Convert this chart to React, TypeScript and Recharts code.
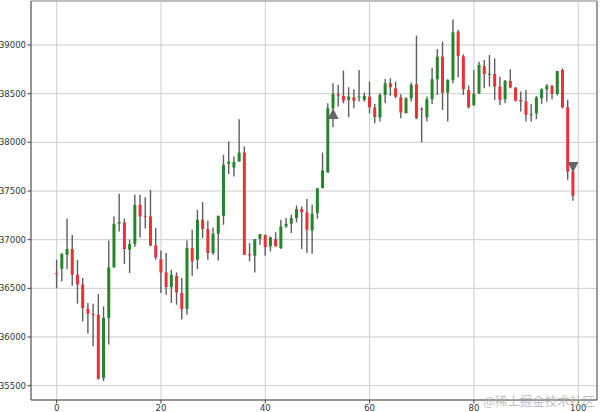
import React from "react";
import {
  Bar,
  CartesianGrid,
  ComposedChart,
  ReferenceLine,
  Scatter,
  XAxis,
  YAxis,
} from "recharts";

// OHLC per session, index = position on the x axis
const opens = [
  36655, 36700, 36845, 36904, 36640, 36538, 36288, 36235, 36230, 35580,
  36196, 36715, 37165, 37177, 36897, 36955, 37358, 37245, 37239, 36941,
  36800, 36664, 36514, 36630, 36452, 36288, 36914, 36794, 37205, 37109,
  36863, 37061, 37246, 37779, 37741, 37803, 37895, 36850, 36835, 37010,
  37050, 36931, 37006, 36914, 37136, 37163, 37222, 37314, 37280, 37095,
  37273, 37529, 37690, 38350, 38494, 38477, 38436, 38463, 38465, 38436,
  38470, 38357, 38258, 38487, 38607, 38555, 38463, 38299, 38453, 38596,
  38345, 38258, 38443, 38648, 38880, 38511, 38641, 39137, 38880, 38538,
  38384, 38504, 38785, 38700, 38702, 38573, 38443, 38631, 38562, 38436,
  38419, 38285, 38299, 38453, 38545, 38579, 38497, 38743, 38360, 37700,
];
const closes = [
  36645, 36855, 36905, 36640, 36538, 36298, 36240, 36225, 35570, 36196,
  36715, 37163, 37180, 36904, 36955, 37358, 37239, 37235, 36941, 36818,
  36664, 36514, 36640, 36459, 36288, 36914, 36777, 37205, 37109, 36863,
  37061, 37246, 37769, 37803, 37796, 37895, 36845, 36840, 37006, 37057,
  36924, 37023, 36931, 37136, 37163, 37222, 37314, 37283, 37102, 37266,
  37529, 37711, 38350, 38497, 38480, 38429, 38470, 38429, 38470, 38477,
  38360, 38258, 38487, 38607, 38566, 38470, 38306, 38453, 38590, 38248,
  38340, 38443, 38648, 38880, 38511, 38641, 39130, 38887, 38545, 38360,
  38497, 38795, 38702, 38705, 38573, 38436, 38631, 38562, 38429, 38419,
  38282, 38290, 38460, 38545, 38579, 38497, 38733, 38360, 37700, 37451,
];
const highs = [
  36794, 36860, 37215, 37047, 36791, 36606, 36350, 36343, 36442, 36315,
  36992, 37239, 37471, 37218, 37000, 37461, 37461, 37437, 37512, 37119,
  36890, 36863, 36692, 36664, 36606, 36992, 37102, 37307, 37386, 37194,
  37126, 37246, 37871, 38008, 37854, 38237, 37957, 36965, 37006, 37057,
  37050, 37033, 37078, 37205, 37222, 37256, 37352, 37341, 37417, 37358,
  37529, 37895, 38402, 38607, 38590, 38737, 38566, 38545, 38743, 38511,
  38624, 38395, 38504, 38651, 38658, 38624, 38494, 38463, 38614, 39096,
  38360, 38470, 38767, 38959, 39034, 38648, 39263, 39154, 38904, 38583,
  38743, 38829, 38846, 38897, 38863, 38675, 38641, 38750, 38566, 38521,
  38538, 38391, 38477, 38555, 38600, 38590, 38733, 38761, 38436, 37769,
];
const lows = [
  36503, 36572, 36698, 36527, 36343, 36161, 36035, 35905, 35563, 35546,
  35922, 36715, 37085, 36750, 36657, 36924, 37023, 37116, 36931, 36794,
  36452, 36435, 36350, 36332, 36179, 36230, 36630, 36698, 37016, 36794,
  36845, 36787, 37153, 37676, 37649, 37803, 36845, 36777, 36664, 36948,
  36835, 36880, 36931, 36904, 37122, 37068, 37177, 36904, 36863, 36856,
  37215, 37529, 37690, 38155, 38367, 38401, 38258, 38350, 38419, 38419,
  38299, 38196, 38213, 38402, 38477, 38453, 38248, 38299, 38419, 38237,
  38001, 38213, 38395, 38487, 38333, 38213, 38607, 38668, 38487, 38350,
  38374, 38497, 38555, 38573, 38436, 38384, 38402, 38555, 38419, 38316,
  38213, 38213, 38237, 38395, 38419, 38443, 38480, 38350, 37615, 37399,
];

// signal markers
const buySignals = [{ i: 53, v: 38291 }];
const sellSignals = [{ i: 99, v: 37747 }];

const xTicks = [0, 20, 40, 60, 80, 100];
const yTicks = [35500, 36000, 36500, 37000, 37500, 38000, 38500, 39000];

const candles = opens.map((o, i) => ({
  i,
  open: o,
  close: closes[i],
  high: highs[i],
  low: lows[i],
  range: [lows[i], highs[i]],
}));

const UP = "#23862a";
const DOWN = "#ec3038";
const WICK = "#5e5e5e";

function Candle(props: any) {
  const { x, y, width, height, payload } = props;
  if (x == null || y == null) return null;
  const cx = x + width / 2;
  const h = Math.abs(height);
  const top = height < 0 ? y + height : y;
  const span = payload.high - payload.low || 1;
  const k = h / span;
  const bodyTop = top + (payload.high - Math.max(payload.open, payload.close)) * k;
  const bodyBot = top + (payload.high - Math.min(payload.open, payload.close)) * k;
  const up = payload.close >= payload.open;
  return (
    <g>
      <line x1={cx} x2={cx} y1={top} y2={top + h} stroke={WICK} strokeWidth={1.4} />
      <rect
        x={cx - 1.5}
        y={bodyTop}
        width={3}
        height={Math.max(bodyBot - bodyTop, 1)}
        fill={up ? UP : DOWN}
      />
    </g>
  );
}

function UpMarker(props: any) {
  const { cx, cy } = props;
  return (
    <polygon
      points={`${cx},${cy - 5.5} ${cx - 5.5},${cy + 5} ${cx + 5.5},${cy + 5}`}
      fill="#666"
    />
  );
}

function DownMarker(props: any) {
  const { cx, cy } = props;
  return (
    <polygon
      points={`${cx - 5.5},${cy - 5} ${cx + 5.5},${cy - 5} ${cx},${cy + 5.5}`}
      fill="#666"
    />
  );
}

const tickStyle = { fontSize: 8.5, fill: "#333", fontFamily: "DejaVu Sans" };

export default function App() {
  return (
    <div style={{ position: "absolute", left: 0, top: 0, width: 600, height: 412, background: "#fff" }}>
      <ComposedChart
        width={600}
        height={412}
        data={candles}
        margin={{ top: 1, right: 3, bottom: 0, left: 0 }}
      >
        <CartesianGrid stroke="#cccccc" strokeWidth={1} />
        <XAxis
          dataKey="i"
          type="number"
          domain={[-4.93, 103.6]}
          ticks={xTicks}
          allowDataOverflow
          height={12}
          tick={tickStyle}
          tickSize={3.5}
          tickMargin={1}
          stroke="#444"
        />
        <YAxis
          type="number"
          domain={[35353, 39452]}
          ticks={yTicks}
          allowDataOverflow
          width={31}
          tick={tickStyle}
          tickSize={3.5}
          tickMargin={1.5}
          stroke="#444"
        />
        <ReferenceLine x={103.6} stroke="#555" />
        <ReferenceLine y={39452} stroke="#999" />
        <Bar dataKey="range" barSize={3} shape={<Candle />} isAnimationActive={false} />
        <Scatter data={buySignals} dataKey="v" shape={<UpMarker />} isAnimationActive={false} />
        <Scatter data={sellSignals} dataKey="v" shape={<DownMarker />} isAnimationActive={false} />
      </ComposedChart>
      <div
        style={{
          position: "absolute",
          left: 483,
          top: 391,
          fontSize: 12.5,
          color: "rgba(170,170,170,0.75)",
          fontFamily: "Noto Sans CJK SC",
          whiteSpace: "nowrap",
        }}
      >
        @稀土掘金技术社区
      </div>
    </div>
  );
}
